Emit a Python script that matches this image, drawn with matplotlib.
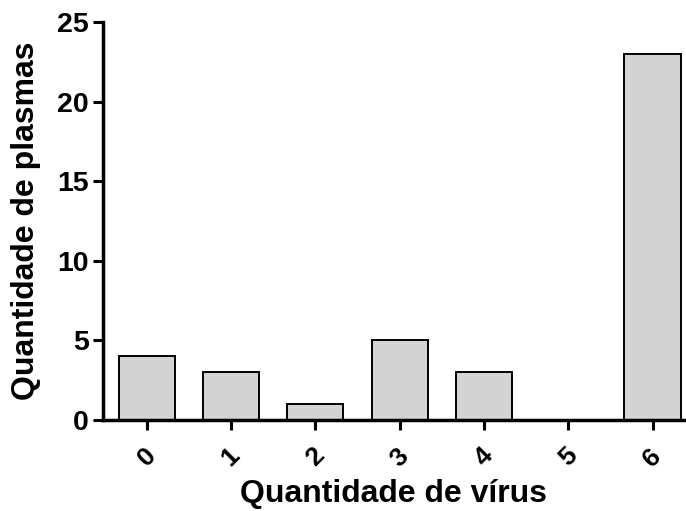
import matplotlib
matplotlib.use("Agg")
import matplotlib.pyplot as plt

virus = [0, 1, 2, 3, 4, 5, 6]
plasmas = [4, 3, 1, 5, 3, 0, 23]
xlabels = ["0", "1", "2", "3", "4", "5", "6"]

plt.rcParams['font.family'] = ['Liberation Sans', 'DejaVu Sans']
plt.rcParams['font.weight'] = 'bold'

fig = plt.figure(figsize=(6.86, 5.11), dpi=100)
ax = fig.add_axes([0.150, 0.178, 0.848, 0.779])

ax.bar(virus, plasmas, width=0.667, color="#d3d3d3", edgecolor="black", linewidth=1.4)

ax.set_xlim(-0.52, 6.38)
ax.set_ylim(0, 25)
ax.set_yticks([0, 5, 10, 15, 20, 25])
ax.set_xticks(virus)
ax.set_xticklabels(xlabels, rotation=45, fontsize=19, fontweight='bold')
ax.tick_params(axis='y', labelsize=20.5, width=2.2, length=7, pad=3)
ax.tick_params(axis='x', width=2.2, length=7, pad=10)
for t in ax.get_yticklabels():
    t.set_fontweight('bold')

ax.spines['top'].set_visible(False)
ax.spines['right'].set_visible(False)
ax.spines['left'].set_linewidth(2.5)
ax.spines['bottom'].set_linewidth(2.5)

ax.set_xlabel("Quantidade de vírus", fontsize=23, fontweight='bold', labelpad=6)
ax.set_ylabel("Quantidade de plasmas", fontsize=23, fontweight='bold', labelpad=12)

fig.savefig("out.png", dpi=100)
